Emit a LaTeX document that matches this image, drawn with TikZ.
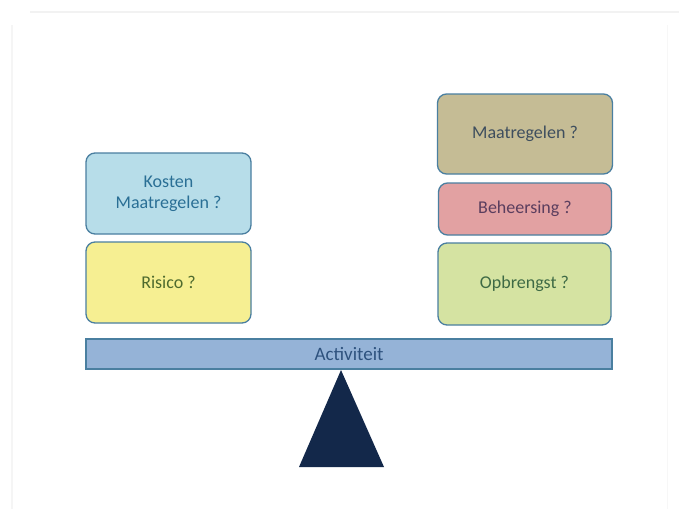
\documentclass[tikz,border=0pt]{standalone}
\usepackage{fontspec}
\setmainfont{Carlito}
\definecolor{bordc}{HTML}{4A7FA0}
\definecolor{kfill}{HTML}{B7DDE9}
\definecolor{rfill}{HTML}{F6EF92}
\definecolor{mfill}{HTML}{C5BC95}
\definecolor{bfill}{HTML}{E2A1A2}
\definecolor{ofill}{HTML}{D5E3A2}
\definecolor{barfill}{HTML}{95B3D7}
\definecolor{navy}{HTML}{13284A}
\definecolor{ktext}{HTML}{2A6F95}
\definecolor{rtext}{HTML}{4E6A2E}
\definecolor{mtext}{HTML}{3E4E5E}
\definecolor{btext}{HTML}{5B3E5E}
\definecolor{otext}{HTML}{3E6A45}
\definecolor{atext}{HTML}{2E527E}
\tikzset{
  x=1pt, y=-1pt,
  card/.style={draw=bordc, line width=1.3pt, rounded corners=9pt, align=center,
    font=\fontsize{18}{21}\selectfont, inner sep=0pt},
}
\begin{document}
\begin{tikzpicture}
\useasboundingbox (0,0) rectangle (679,509);
\fill[white] (0,0) rectangle (679,509);
% faint frame
\draw[gray!10, line width=2pt] (30,12) -- (679,12);
\draw[gray!8, line width=2pt] (12,25) -- (12,509);
\draw[gray!6, line width=1pt] (667,25) -- (667,509);
% left boxes
\node[card, fill=kfill, text=ktext, minimum width=165pt, minimum height=81pt] (kosten) at (168.5,193.5) {Kosten\\Maatregelen ?};
\node[card, fill=rfill, text=rtext, minimum width=165pt, minimum height=81pt] (risico) at (168.5,282.5) {Risico ?};
% right boxes
\node[card, fill=mfill, text=mtext, minimum width=175pt, minimum height=80pt] (maatr) at (525,134) {Maatregelen ?};
\node[card, fill=bfill, text=btext, minimum width=173pt, minimum height=52pt] (beheer) at (525,209) {Beheersing ?};
\node[card, fill=ofill, text=otext, minimum width=173pt, minimum height=82pt] (opbr) at (524.5,284) {Opbrengst ?};
% bar
\node[draw=bordc, line width=1.3pt, fill=barfill, text=atext, minimum width=526pt, minimum height=30pt,
  inner sep=0pt, font=\fontsize{19}{22}\selectfont] (bar) at (349,354) {Activiteit};
% fulcrum
\coordinate (apex) at (341,370);
\fill[navy] (apex) -- (384,467) -- (299,467) -- cycle;
\end{tikzpicture}
\end{document}
